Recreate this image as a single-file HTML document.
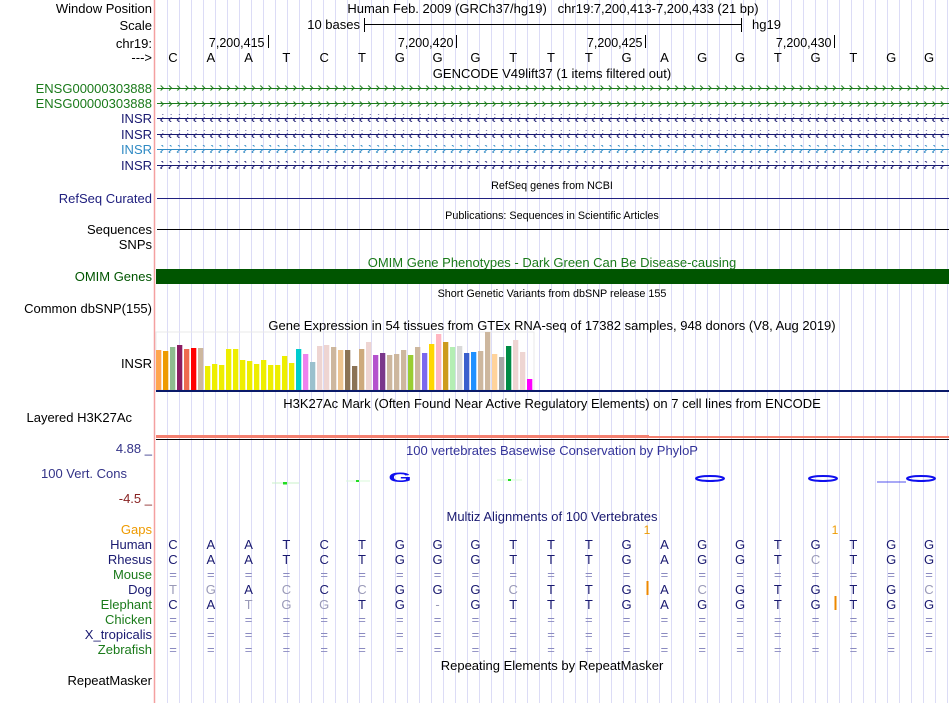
<!DOCTYPE html>
<html><head><meta charset="utf-8"><style>
html,body{margin:0;padding:0;background:#fff;}
svg{display:block;font-family:"Liberation Sans",sans-serif;}
</style></head><body>
<svg id="chart" width="950" height="703" viewBox="0 0 950 703" xmlns="http://www.w3.org/2000/svg">
<defs>
<pattern id="fwd" width="8.3" height="8" patternUnits="userSpaceOnUse" x="0" y="-4">
<polyline points="3,1.5 5.5,4 3,6.5" fill="none" stroke="#1a7a1a" stroke-width="1"/>
</pattern>
<pattern id="rev" width="8.3" height="8" patternUnits="userSpaceOnUse" x="0" y="-4">
<polyline points="5.5,1.5 3,4 5.5,6.5" fill="none" stroke="#191970" stroke-width="1"/>
</pattern>
<pattern id="rev2" width="8.3" height="8" patternUnits="userSpaceOnUse" x="0" y="-4">
<polyline points="5.5,1.5 3,4 5.5,6.5" fill="none" stroke="#2f8ac4" stroke-width="1"/>
</pattern>
</defs>
<g id="grid"></g>
<line x1="154.5" y1="0" x2="154.5" y2="703" stroke="#f4a0a0" stroke-width="1.5"/>
<g id="labels" font-size="13" text-anchor="end">
<text x="152" y="13" fill="#000">Window Position</text>
<text x="152" y="30" fill="#000">Scale</text>
<text x="152" y="48" fill="#000">chr19:</text>
<text x="152" y="62" fill="#000">---&gt;</text>
<text x="152" y="93" fill="#1a7a1a">ENSG00000303888</text>
<text x="152" y="108" fill="#1a7a1a">ENSG00000303888</text>
<text x="152" y="123" fill="#191970">INSR</text>
<text x="152" y="139" fill="#191970">INSR</text>
<text x="152" y="154" fill="#2f8ac4">INSR</text>
<text x="152" y="170" fill="#191970">INSR</text>
<text x="152" y="203" fill="#20207f">RefSeq Curated</text>
<text x="152" y="234" fill="#000">Sequences</text>
<text x="152" y="249" fill="#000">SNPs</text>
<text x="152" y="281" fill="#005500">OMIM Genes</text>
<text x="152" y="313" fill="#000">Common dbSNP(155)</text>
<text x="152" y="368" fill="#000">INSR</text>
<text x="132" y="422" fill="#000">Layered H3K27Ac</text>
<text x="127" y="478" fill="#333388">100 Vert. Cons</text>
<text x="152" y="453" fill="#333388">4.88 _</text>
<text x="152" y="503" fill="#882222">-4.5 _</text>
<text x="152" y="534" fill="#ee9a00">Gaps</text>
<text x="152" y="549" fill="#191970">Human</text>
<text x="152" y="564" fill="#191970">Rhesus</text>
<text x="152" y="579" fill="#1a7a1a">Mouse</text>
<text x="152" y="594" fill="#191970">Dog</text>
<text x="152" y="609" fill="#1a7a1a">Elephant</text>
<text x="152" y="624" fill="#1a7a1a">Chicken</text>
<text x="152" y="639" fill="#191970">X_tropicalis</text>
<text x="152" y="654" fill="#1a7a1a">Zebrafish</text>
<text x="152" y="685" fill="#000">RepeatMasker</text>
</g>
<g font-size="13" text-anchor="middle">
<text x="553" y="13">Human Feb. 2009 (GRCh37/hg19)&#160;&#160;&#160;chr19:7,200,413-7,200,433 (21 bp)</text>
<text x="552" y="78">GENCODE V49lift37 (1 items filtered out)</text>
<text x="552" y="189" font-size="10.8">RefSeq genes from NCBI</text>
<text x="552" y="219" font-size="10.8">Publications: Sequences in Scientific Articles</text>
<text x="552" y="267" fill="#1a7a1a">OMIM Gene Phenotypes - Dark Green Can Be Disease-causing</text>
<text x="552" y="297" font-size="10.8">Short Genetic Variants from dbSNP release 155</text>
<text x="552" y="330">Gene Expression in 54 tissues from GTEx RNA-seq of 17382 samples, 948 donors (V8, Aug 2019)</text>
<text x="552" y="408">H3K27Ac Mark (Often Found Near Active Regulatory Elements) on 7 cell lines from ENCODE</text>
<text x="552" y="455" fill="#333399">100 vertebrates Basewise Conservation by PhyloP</text>
<text x="552" y="521" fill="#191970">Multiz Alignments of 100 Vertebrates</text>
<text x="552" y="670">Repeating Elements by RepeatMasker</text>
</g>
<g>
<text x="360" y="29" font-size="13" text-anchor="end">10 bases</text>
<line x1="364.5" y1="24.5" x2="741.5" y2="24.5" stroke="#000"/>
<line x1="364.5" y1="18" x2="364.5" y2="32" stroke="#000"/>
<line x1="741.5" y1="18" x2="741.5" y2="32" stroke="#000"/>
<text x="752" y="29" font-size="13">hg19</text>
</g>
<g id="ruler"></g>
<g id="bases" font-size="13" text-anchor="middle"></g>
<g>
<rect x="157" y="84" width="792" height="8" fill="url(#fwd)"/><line x1="157" y1="88.5" x2="949" y2="88.5" stroke="#1a7a1a"/>
<rect x="157" y="99" width="792" height="8" fill="url(#fwd)"/><line x1="157" y1="103.5" x2="949" y2="103.5" stroke="#1a7a1a"/>
<rect x="157" y="114" width="792" height="8" fill="url(#rev)"/><line x1="157" y1="118.5" x2="949" y2="118.5" stroke="#191970"/>
<rect x="157" y="130" width="792" height="8" fill="url(#rev)"/><line x1="157" y1="134.5" x2="949" y2="134.5" stroke="#191970"/>
<rect x="157" y="145" width="792" height="8" fill="url(#rev2)"/><line x1="157" y1="149.5" x2="949" y2="149.5" stroke="#2f8ac4"/>
<rect x="157" y="161" width="792" height="8" fill="url(#rev)"/><line x1="157" y1="165.5" x2="949" y2="165.5" stroke="#191970"/>
</g>
<line x1="157" y1="198.5" x2="949" y2="198.5" stroke="#20207f"/>
<line x1="157" y1="229.5" x2="949" y2="229.5" stroke="#000"/>
<rect x="156" y="269" width="793" height="15" fill="#005500"/>
<rect x="156" y="332" width="378" height="58" fill="none" stroke="#e8e8e8"/>
<g id="gtex"></g>
<line x1="156" y1="391" x2="949" y2="391" stroke="#0a1a6a" stroke-width="2"/>
<rect x="156" y="435" width="493" height="3" fill="#f48070"/>
<rect x="649" y="436" width="300" height="2" fill="#f48070"/>
<line x1="156" y1="439.5" x2="949" y2="439.5" stroke="#000"/>
<g>
<line x1="272" y1="483" x2="299" y2="483" stroke="#c8f0c8"/><rect x="283" y="482" width="4" height="2.5" fill="#22dd22"/>
<line x1="346" y1="481" x2="370" y2="481" stroke="#d8f8d8"/><rect x="356" y="480" width="3" height="2" fill="#22dd22"/>
<line x1="497" y1="480" x2="522" y2="480" stroke="#d8f8d8"/><rect x="508" y="479" width="3" height="2" fill="#22dd22"/>
<text x="400" y="482" font-size="20" font-weight="bold" fill="#1010ee" text-anchor="middle" transform="translate(400 482) scale(1.5 0.7) translate(-400 -482)">G</text>
<ellipse cx="710" cy="478.5" rx="14" ry="2.5" fill="none" stroke="#1010ee" stroke-width="2"/>
<ellipse cx="823" cy="478.5" rx="14" ry="2.5" fill="none" stroke="#1010ee" stroke-width="2"/>
<line x1="877" y1="482" x2="906" y2="482" stroke="#5050ee"/>
<ellipse cx="921" cy="478.5" rx="14" ry="2.5" fill="none" stroke="#1010ee" stroke-width="2"/>
</g>
<g>
<text x="647" y="534" font-size="12" fill="#ee9a00" text-anchor="middle">1</text>
<text x="835" y="534" font-size="12" fill="#ee9a00" text-anchor="middle">1</text>
<line x1="647.5" y1="581" x2="647.5" y2="595" stroke="#ee8800" stroke-width="2"/>
<line x1="835.5" y1="596" x2="835.5" y2="610" stroke="#ee8800" stroke-width="2"/>
</g>
<g id="align" font-size="13" text-anchor="middle"></g>
</svg>
<script>
const refSeq = "CAATCTGGGTTTGAGGTGTGG";
const species = ["Human","Rhesus","Mouse","Dog","Elephant","Chicken","X_tropicalis","Zebrafish"];
const alignRows = [
 "CAATCTGGGTTTGAGGTGTGG",
 "CAATCTGGGTTTGAGGTCTGG",
 "=====================",
 "TGACCCGGGCTTGACGTGTGC",
 "CATGGTG-GTTTGAGGTGTGG",
 "=====================",
 "=====================",
 "====================="
];
const rulerLabels = ["7,200,415","7,200,420","7,200,425","7,200,430"];
const rulerBaseIdx = [2,7,12,17];
const gtexValues = [40,39,43,45,41,42,42,24,26,25,41,41,30,29,26,30,25,25,34,27,41,36,28,44,45,43,40,40,24,41,48,35,37,35,36,40,35,43,37,46,56,48,43,44,37,38,39,58,36,33,44,50,38,11];
const gtexColors = ["#FFA54F","#EE9A00","#8FBC8F","#8B1C62","#EE6A50","#FF0000","#CDB79E","#EEEE00","#EEEE00","#EEEE00","#EEEE00","#EEEE00","#EEEE00","#EEEE00","#EEEE00","#EEEE00","#EEEE00","#EEEE00","#EEEE00","#EEEE00","#00CDCD","#EE82EE","#9AC0CD","#EED5D2","#EED5D2","#CDB79E","#EEC591","#8B7355","#8B7355","#CDAA7D","#EED5D2","#B452CD","#7A378B","#CDB79E","#CDB79E","#CDB79E","#9ACD32","#CDB79E","#7B68EE","#FFD700","#FFB6C1","#CD9B1D","#B4EEB4","#D9D9D9","#3A5FCD","#1E90FF","#CDB79E","#CDB79E","#FFD39B","#A6A6A6","#008B45","#EED5D2","#EED5D2","#FF00FF"];

const NS="http://www.w3.org/2000/svg";
function mk(tag,attrs,parent,txt){const e=document.createElementNS(NS,tag);for(const k in attrs)e.setAttribute(k,attrs[k]);if(txt!==undefined)e.textContent=txt;parent.appendChild(e);return e;}
const baseX = i => 173 + i*37.8;
const grid=document.getElementById('grid');
for(let x=167;x<950;x+=12){
 const l=mk('line',{x1:x+0.5,y1:0,x2:x+0.5,y2:703,stroke:'#dcdcf6'},grid);
 
 
}
const ruler=document.getElementById('ruler');
rulerLabels.forEach((lab,k)=>{
 const tx=baseX(rulerBaseIdx[k])+18.9;
 const t=mk('text',{x:tx-3,y:47,'font-size':12.5,'text-anchor':'end'},ruler,lab);
 
 
 const l=mk('line',{x1:Math.round(tx)+0.5,y1:35,x2:Math.round(tx)+0.5,y2:48,stroke:'#000'},ruler);
 
 
});
const bases=document.getElementById('bases');
[...refSeq].forEach((b,i)=>{
 const t=mk('text',{x:baseX(i),y:62},bases,b);
 
 
});
const gtex=document.getElementById('gtex');
const gMax=Math.max(...gtexValues), baseY=390, maxH=58;
const yScale=v=>v/gMax*maxH;
gtexValues.forEach((v,i)=>{
 const h=yScale(v);
 const r=mk('rect',{x:156+i*7,y:baseY-h,width:5.3,height:h,fill:gtexColors[i]},gtex);
 
 
});
const align=document.getElementById('align');
alignRows.forEach((row,r)=>{
 [...row].forEach((c,i)=>{
  const same = c===refSeq[i] || r===0;
  const fill = c==='=' ? '#8a8ac0' : (same ? '#191970' : '#9a9ab8');
  const t=mk('text',{x:baseX(i),y:549+r*15,fill:fill},align,c);
  
  
 });
});
</script>
</body></html>
